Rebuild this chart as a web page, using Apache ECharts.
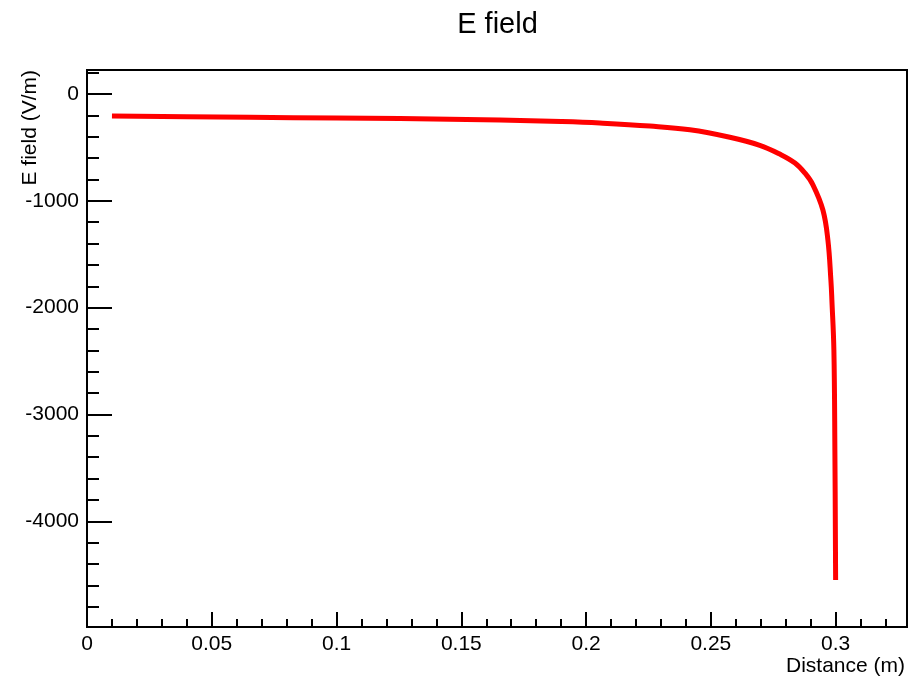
<!DOCTYPE html>
<html>
<head>
<meta charset="utf-8">
<script src="https://cdn.jsdelivr.net/npm/echarts@6/dist/echarts.min.js"></script>
<style>
html,body{margin:0;padding:0;background:#fff;}
#chart{width:911px;height:678px;}
</style>
</head>
<body>
<div id="chart"></div>
<script>
// Data
var distance = [0.01, 0.04, 0.0653, 0.1, 0.1254, 0.1655, 0.19, 0.2055, 0.2256, 0.2416, 0.2576, 0.2696, 0.2776, 0.2837, 0.2877, 0.2909, 0.2949, 0.2969, 0.2981, 0.2985, 0.2993, 0.2997, 0.3];
var efield   = [-206, -212, -218, -224, -229, -243, -258, -272, -300, -335, -405, -480, -562, -646, -740, -850, -1086, -1367, -1742, -1929, -2397, -3333, -4551];

var xTicks = [0, 0.05, 0.1, 0.15, 0.2, 0.25, 0.3];
var yTicks = [0, -1000, -2000, -3000, -4000];
var xMinorStep = 0.01;
var yMinorStep = 200;
var xRange = [0, 0.3286];
var yRange = [-4990, 225];

function minorValues(range, step, majors) {
  var out = [];
  var start = Math.ceil(range[0] / step);
  var end = Math.floor(range[1] / step);
  for (var i = start; i <= end; i++) {
    var v = +(i * step).toFixed(6);
    var isMajor = majors.some(function (m) { return Math.abs(m - v) < 1e-9; });
    if (!isMajor) out.push(v);
  }
  return out;
}
var xMinor = minorValues(xRange, xMinorStep, xTicks);
var yMinor = minorValues(yRange, yMinorStep, yTicks);

var points = distance.map(function (d, i) { return [d, efield[i]]; });

var FONT = 'Liberation Sans, Arial, Helvetica, sans-serif';
var LABEL_SIZE = 21;
var chart = echarts.init(document.getElementById('chart'), null, {renderer: 'canvas'});

var baseX = {
  type: 'value', min: xRange[0], max: xRange[1], position: 'bottom',
  splitLine: {show: false},
  axisLine: {show: true, onZero: false, lineStyle: {color: '#000', width: 2}}
};
var baseY = {
  type: 'value', min: yRange[0], max: yRange[1], position: 'left',
  splitLine: {show: false},
  axisLine: {show: true, onZero: false, lineStyle: {color: '#000', width: 2}}
};

chart.setOption({
  animation: false,
  backgroundColor: '#fff',
  grid: {left: 87, right: 4, top: 70, bottom: 51, show: true, borderColor: '#000', borderWidth: 2, containLabel: false},
  graphic: [
    {type: 'text', x: 497.5, y: 25, style: {text: 'E field', font: '29px ' + FONT, fill: '#000', align: 'center', verticalAlign: 'middle'}},
    {type: 'text', x: 30, y: 70, rotation: Math.PI / 2, style: {text: 'E field (V/m)', font: LABEL_SIZE + 'px ' + FONT, fill: '#000', align: 'right', verticalAlign: 'middle'}},
    {type: 'text', x: 905, y: 666, style: {text: 'Distance (m)', font: LABEL_SIZE + 'px ' + FONT, fill: '#000', align: 'right', verticalAlign: 'middle'}}
  ],
  xAxis: [
    Object.assign({}, baseX, {
      axisTick: {show: true, inside: true, length: 15, customValues: xTicks, lineStyle: {color: '#000', width: 2}},
      axisLabel: {show: true, customValues: xTicks, margin: 7, color: '#000', fontFamily: FONT, fontSize: LABEL_SIZE,
        formatter: function (v) { return String(v); }}
    }),
    Object.assign({}, baseX, {
      axisTick: {show: true, inside: true, length: 8, customValues: xMinor, lineStyle: {color: '#000', width: 2}},
      axisLabel: {show: false}
    })
  ],
  yAxis: [
    Object.assign({}, baseY, {
      axisTick: {show: true, inside: true, length: 25, customValues: yTicks, lineStyle: {color: '#000', width: 2}},
      axisLabel: {show: true, customValues: yTicks, margin: 8, color: '#000', fontFamily: FONT, fontSize: LABEL_SIZE,
        formatter: function (v) { return String(v); }}
    }),
    Object.assign({}, baseY, {
      axisTick: {show: true, inside: true, length: 12, customValues: yMinor, lineStyle: {color: '#000', width: 2}},
      axisLabel: {show: false}
    })
  ],
  series: [{
    type: 'line',
    xAxisIndex: 0, yAxisIndex: 0,
    data: points,
    showSymbol: false,
    smooth: 0.4,
    clip: true,
    lineStyle: {color: '#ff0000', width: 5, cap: 'butt', join: 'round'}
  }]
});
</script>
</body>
</html>
